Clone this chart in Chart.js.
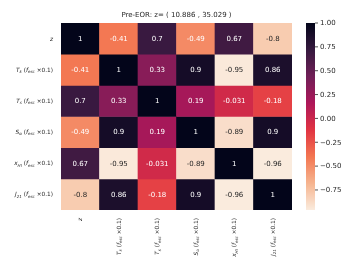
<!DOCTYPE html>
<html>
<head>
<meta charset="utf-8">
<script src="https://cdn.jsdelivr.net/npm/chart.js@4/dist/chart.umd.min.js"></script>
<style>
    html, body { margin: 0; padding: 0; background: #fff; }
    #wrap { width: 354px; height: 274px; }
</style>
</head>
<body>
<div id="wrap"><canvas id="heatmap" width="354" height="274"></canvas></div>
<script>
const title = 'Pre-EOR: z= ( 10.886 , 35.029 )';
const labels = [
    '$z$',
    '$T_{k}$ ($f_{esc}$ ×0.1)',
    '$T_{s}$ ($f_{esc}$ ×0.1)',
    '$S_{α}$ ($f_{esc}$ ×0.1)',
    '$x_{HI}$ ($f_{esc}$ ×0.1)',
    '$J_{21}$ ($f_{esc}$ ×0.1)'
];
const rowZ   = [1, -0.41, 0.7, -0.49, 0.67, -0.8];
const rowTk  = [-0.41, 1, 0.33, 0.9, -0.95, 0.86];
const rowTs  = [0.7, 0.33, 1, 0.19, -0.031, -0.18];
const rowSa  = [-0.49, 0.9, 0.19, 1, -0.89, 0.9];
const rowXhi = [0.67, -0.95, -0.031, -0.89, 1, -0.96];
const rowJ21 = [-0.8, 0.86, -0.18, 0.9, -0.96, 1];
const rows = [rowZ, rowTk, rowTs, rowSa, rowXhi, rowJ21];
const vmin = -0.96;
const vmax = 1;
const cbTicks = [1, 0.75, 0.5, 0.25, 0, -0.25, -0.5, -0.75];

// seaborn "rocket" anchors, used reversed (high value = dark)
const rocket = [
    [0, [3, 5, 26]],
    [1 / 7, [53, 25, 62]],
    [2 / 7, [112, 31, 87]],
    [3 / 7, [173, 23, 89]],
    [4 / 7, [225, 51, 66]],
    [5 / 7, [243, 118, 81]],
    [6 / 7, [246, 180, 143]],
    [1, [250, 235, 221]]
];

function rocketRgb(t) {
    t = Math.max(0, Math.min(1, t));
    for (let i = 1; i < rocket.length; i++) {
        if (t <= rocket[i][0]) {
            const [t0, c0] = rocket[i - 1];
            const [t1, c1] = rocket[i];
            const f = (t - t0) / (t1 - t0);
            return c0.map((c, k) => Math.round(c + (c1[k] - c) * f));
        }
    }
    return rocket[rocket.length - 1][1];
}

function valueRgb(v) {
    return rocketRgb(1 - (v - vmin) / (vmax - vmin));
}

function rgbStr(c) {
    return `rgb(${c[0]}, ${c[1]}, ${c[2]})`;
}

function luminance(c) {
    const lin = c.map(x => {
        x /= 255;
        return x <= 0.03928 ? x / 12.92 : Math.pow((x + 0.055) / 1.055, 2.4);
    });
    return 0.2126 * lin[0] + 0.7152 * lin[1] + 0.0722 * lin[2];
}

function fmt(v) {
    let s = v.toPrecision(2);
    if (s.indexOf('.') >= 0 && s.indexOf('e') < 0) s = s.replace(/0+$/, '').replace(/\.$/, '');
    return s;
}

// '$T_{k}$ ($f_{esc}$ ×0.1)' -> pieces with italic / subscript flags
function parseLabel(str) {
    const parts = [];
    let italic = false;
    let i = 0;
    while (i < str.length) {
        const ch = str[i];
        if (ch === '$') { italic = !italic; i++; continue; }
        if (ch === '_' && str[i + 1] === '{') {
            const end = str.indexOf('}', i);
            parts.push({ t: str.slice(i + 2, end), italic: italic, sub: true });
            i = end + 1;
            continue;
        }
        const last = parts[parts.length - 1];
        if (last && !last.sub && last.italic === italic) last.t += ch;
        else parts.push({ t: ch, italic: italic, sub: false });
        i++;
    }
    return parts;
}

const FONT = "'DejaVu Sans', sans-serif";
const labelSize = 5.8;

function partFont(p) {
    const size = p.sub ? labelSize * 0.7 : labelSize;
    return `${p.italic ? 'italic ' : ''}${size}px ${FONT}`;
}

function labelWidth(ctx, parts) {
    let w = 0;
    parts.forEach(p => { ctx.font = partFont(p); w += ctx.measureText(p.t).width; });
    return w;
}

function drawLabel(ctx, parts, x, y) {
    // x is the left start, y the middle line
    ctx.textBaseline = 'middle';
    ctx.textAlign = 'left';
    parts.forEach(p => {
        ctx.font = partFont(p);
        ctx.fillText(p.t, x, p.sub ? y + labelSize * 0.3 : y);
        x += ctx.measureText(p.t).width;
    });
}

const parsedLabels = labels.map(parseLabel);

const datasets = rows.map((row, r) => ({
    data: row.map(() => [r - 0.5, r + 0.5]),
    backgroundColor: row.map(v => rgbStr(valueRgb(v))),
    borderWidth: 0,
    borderSkipped: false,
    grouped: false,
    barPercentage: 1,
    categoryPercentage: 1
}));

const decor = {
    id: 'decor',
    afterDatasetsDraw(chart) {
        const ctx = chart.ctx;
        const area = chart.chartArea;
        const xs = chart.scales.x;
        const ys = chart.scales.y;
        ctx.save();

        // annotations
        ctx.font = `7px ${FONT}`;
        ctx.textAlign = 'center';
        ctx.textBaseline = 'middle';
        rows.forEach((row, r) => {
            const meta = chart.getDatasetMeta(r);
            row.forEach((v, c) => {
                const el = meta.data[c];
                const cy = (el.y + el.base) / 2;
                ctx.fillStyle = luminance(valueRgb(v)) > 0.408 ? '#262626' : '#ffffff';
                ctx.fillText(fmt(v), el.x, cy + 0.5);
            });
        });

        // title
        ctx.fillStyle = '#262626';
        ctx.font = `7px ${FONT}`;
        ctx.fillText(title, (area.left + area.right) / 2, 15);

        // y labels
        ctx.fillStyle = '#262626';
        parsedLabels.forEach((parts, i) => {
            const w = labelWidth(ctx, parts);
            drawLabel(ctx, parts, area.left - 8 - w, ys.getPixelForValue(i) + 0.5);
        });

        // x labels, rotated
        parsedLabels.forEach((parts, i) => {
            const w = labelWidth(ctx, parts);
            ctx.save();
            ctx.translate(xs.getPixelForValue(i) + 0.5, area.bottom + 8);
            ctx.rotate(-Math.PI / 2);
            drawLabel(ctx, parts, -w, 0);
            ctx.restore();
        });

        // colorbar
        const cb = chart.scales.cb;
        const cbLeft = 306;
        const cbWidth = 9;
        const top = cb.getPixelForValue(vmax);
        const bottom = cb.getPixelForValue(vmin);
        for (let py = Math.floor(top); py < Math.ceil(bottom); py++) {
            const v = cb.getValueForPixel(py + 0.5);
            ctx.fillStyle = rgbStr(valueRgb(v));
            ctx.fillRect(cbLeft, py, cbWidth, 1);
        }
        ctx.strokeStyle = '#262626';
        ctx.lineWidth = 0.8;
        ctx.fillStyle = '#262626';
        ctx.font = `7px ${FONT}`;
        ctx.textAlign = 'left';
        ctx.textBaseline = 'middle';
        cbTicks.forEach(t => {
            const py = cb.getPixelForValue(t);
            ctx.beginPath();
            ctx.moveTo(cbLeft + cbWidth, py);
            ctx.lineTo(cbLeft + cbWidth + 3, py);
            ctx.stroke();
            ctx.fillText(t.toFixed(2).replace('-', '\u2212'), cbLeft + cbWidth + 5, py + 0.5);
        });
        ctx.restore();
    }
};

new Chart(document.getElementById('heatmap'), {
    type: 'bar',
    data: { labels: labels, datasets: datasets },
    options: {
        responsive: false,
        devicePixelRatio: 1,
        animation: false,
        layout: { padding: { left: 61, top: 23, right: 62, bottom: 64 } },
        plugins: { legend: { display: false }, tooltip: { enabled: false }, title: { display: false } },
        scales: {
            x: { type: 'category', display: false, offset: true },
            y: { type: 'linear', display: false, min: -0.5, max: 5.5, reverse: true },
            cb: { type: 'linear', axis: 'y', display: false, min: vmin, max: vmax }
        }
    },
    plugins: [decor]
});
</script>
</body>
</html>
